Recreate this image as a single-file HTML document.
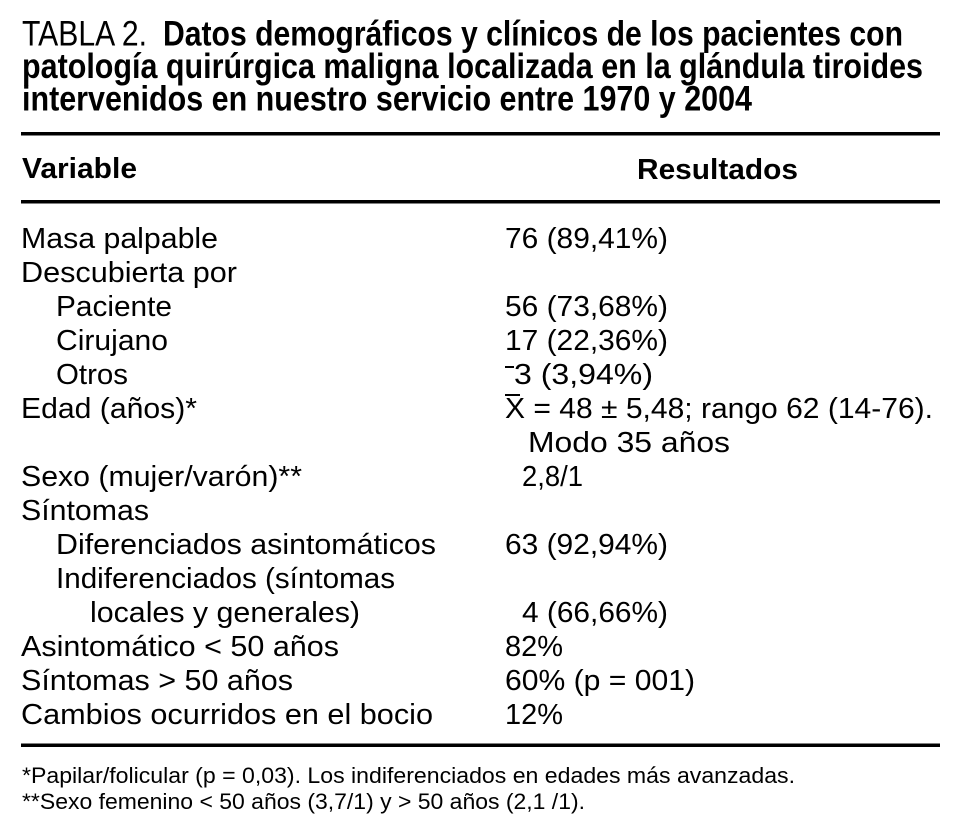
<!DOCTYPE html>
<html>
<head>
<meta charset="utf-8">
<style>
html,body{margin:0;padding:0;background:#fff;}
svg{display:block;}
text{font-family:"Liberation Sans",Arial,sans-serif;fill:#000;}
.t{font-size:35px;}
.b{font-weight:bold;}
.r{font-size:29px;}
.f{font-size:22px;}
</style>
</head>
<body>
<svg width="955" height="838" viewBox="0 0 955 838" xmlns="http://www.w3.org/2000/svg">
<rect x="0" y="0" width="955" height="838" fill="#fff"/>

<!-- Title -->
<text class="t" x="22" y="45.5" textLength="125" lengthAdjust="spacingAndGlyphs">TABLA 2.</text>
<text class="t b" x="163" y="45.5" textLength="740" lengthAdjust="spacingAndGlyphs">Datos demográficos y clínicos de los pacientes con</text>
<text class="t b" x="22" y="78" textLength="901" lengthAdjust="spacingAndGlyphs">patología quirúrgica maligna localizada en la glándula tiroides</text>
<text class="t b" x="22" y="110.5" textLength="730" lengthAdjust="spacingAndGlyphs">intervenidos en nuestro servicio entre 1970 y 2004</text>

<!-- Rules -->
<rect x="21" y="132" width="919" height="3.5" fill="#000"/>
<rect x="21" y="200" width="919" height="3.5" fill="#000"/>
<rect x="21" y="743.5" width="919" height="3.5" fill="#000"/>

<!-- Header -->
<text class="r b" x="22" y="178" textLength="115" lengthAdjust="spacingAndGlyphs">Variable</text>
<text class="r b" x="637" y="179" textLength="161" lengthAdjust="spacingAndGlyphs">Resultados</text>

<!-- Left column -->
<text class="r" x="21" y="248" textLength="197" lengthAdjust="spacingAndGlyphs">Masa palpable</text>
<text class="r" x="21" y="282" textLength="216" lengthAdjust="spacingAndGlyphs">Descubierta por</text>
<text class="r" x="56" y="316" textLength="116" lengthAdjust="spacingAndGlyphs">Paciente</text>
<text class="r" x="56" y="350" textLength="112" lengthAdjust="spacingAndGlyphs">Cirujano</text>
<text class="r" x="56" y="384" textLength="72" lengthAdjust="spacingAndGlyphs">Otros</text>
<text class="r" x="21" y="418" textLength="176" lengthAdjust="spacingAndGlyphs">Edad (años)*</text>
<text class="r" x="21" y="486" textLength="281" lengthAdjust="spacingAndGlyphs">Sexo (mujer/varón)**</text>
<text class="r" x="21" y="520" textLength="128" lengthAdjust="spacingAndGlyphs">Síntomas</text>
<text class="r" x="56" y="554" textLength="380" lengthAdjust="spacingAndGlyphs">Diferenciados asintomáticos</text>
<text class="r" x="56" y="588" textLength="339" lengthAdjust="spacingAndGlyphs">Indiferenciados (síntomas</text>
<text class="r" x="90" y="622" textLength="270" lengthAdjust="spacingAndGlyphs">locales y generales)</text>
<text class="r" x="21" y="656" textLength="318" lengthAdjust="spacingAndGlyphs">Asintomático &lt; 50 años</text>
<text class="r" x="21" y="690" textLength="272" lengthAdjust="spacingAndGlyphs">Síntomas &gt; 50 años</text>
<text class="r" x="21" y="724" textLength="412" lengthAdjust="spacingAndGlyphs">Cambios ocurridos en el bocio</text>

<!-- Right column -->
<text class="r" x="505" y="248" textLength="163" lengthAdjust="spacingAndGlyphs">76 (89,41%)</text>
<text class="r" x="505" y="316" textLength="163" lengthAdjust="spacingAndGlyphs">56 (73,68%)</text>
<text class="r" x="505" y="350" textLength="163" lengthAdjust="spacingAndGlyphs">17 (22,36%)</text>
<rect x="505" y="366" width="9" height="2" fill="#000"/>
<text class="r" x="514" y="384" textLength="139" lengthAdjust="spacingAndGlyphs">3 (3,94%)</text>
<rect x="505" y="394" width="15" height="2" fill="#000"/>
<text class="r" x="505" y="418" textLength="428" lengthAdjust="spacingAndGlyphs">X = 48 ± 5,48; rango 62 (14-76).</text>
<text class="r" x="528" y="452" textLength="202" lengthAdjust="spacingAndGlyphs">Modo 35 años</text>
<text class="r" x="522" y="486" textLength="61" lengthAdjust="spacingAndGlyphs">2,8/1</text>
<text class="r" x="505" y="554" textLength="163" lengthAdjust="spacingAndGlyphs">63 (92,94%)</text>
<text class="r" x="522" y="622" textLength="146" lengthAdjust="spacingAndGlyphs">4 (66,66%)</text>
<text class="r" x="505" y="656" textLength="58" lengthAdjust="spacingAndGlyphs">82%</text>
<text class="r" x="505" y="690" textLength="190" lengthAdjust="spacingAndGlyphs">60% (p = 001)</text>
<text class="r" x="505" y="724" textLength="58" lengthAdjust="spacingAndGlyphs">12%</text>

<!-- Footnotes -->
<text class="f" x="22" y="783" textLength="773" lengthAdjust="spacingAndGlyphs">*Papilar/folicular (p = 0,03). Los indiferenciados en edades más avanzadas.</text>
<text class="f" x="22" y="809" textLength="563" lengthAdjust="spacingAndGlyphs">**Sexo femenino &lt; 50 años (3,7/1) y &gt; 50 años (2,1 /1).</text>
</svg>
</body>
</html>
